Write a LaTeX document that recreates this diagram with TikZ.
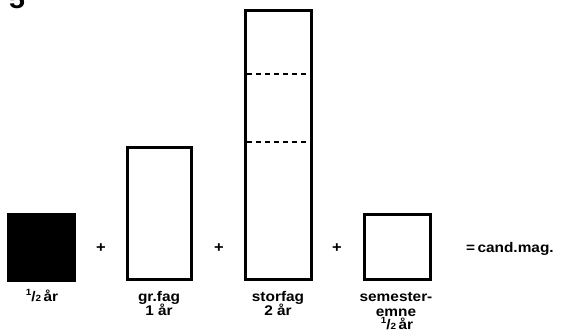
\documentclass[tikz,border=0pt]{standalone}
\usepackage{fontspec}
\setmainfont[FakeStretch=1.1]{Liberation Sans}
\newcommand{\halfyr}{\raisebox{0.42em}{\fontsize{9}{9}\selectfont 1}/{\fontsize{9}{9}\selectfont 2}\,år}
\begin{document}
\begin{tikzpicture}[x=1pt,y=-1pt,
  frame/.style={draw=black,line width=3pt},
  sep/.style={draw=black,line width=1.3pt,dash pattern=on 4.5pt off 4.5pt},
  lbl/.style={font=\bfseries\fontsize{14}{14}\selectfont,anchor=base,inner sep=0pt},
  plus/.style={font=\bfseries\fontsize{15}{15}\selectfont,inner sep=0pt}]
\useasboundingbox (0,0) rectangle (561,336);
\node[font=\bfseries\fontsize{26}{26}\selectfont,anchor=base,inner sep=0pt] (num) at (17,9) {5};
\fill[black] (7,213) rectangle (76,282);
\draw[frame] (127.5,147.5) rectangle (191.5,279.5);
\draw[frame] (245.5,11) rectangle (311.5,279.5);
\draw[sep] (247,74) -- (310,74);
\draw[sep] (247,142) -- (310,142);
\draw[frame] (364.5,214.5) rectangle (430.5,279.5);
\node[plus] (p1) at (101,248) {+};
\node[plus] (p2) at (219,248) {+};
\node[plus] (p3) at (337,248) {+};
\node[font=\bfseries\fontsize{14}{14}\selectfont,anchor=west,inner sep=0pt] (res) at (466,249) {=\,cand.mag.};
\node[lbl] (l1) at (42,301.5) {\halfyr};
\node[lbl] (l2a) at (159,301.5) {gr.fag};
\node[lbl] (l2b) at (159,315.5) {1 år};
\node[lbl] (l3a) at (278,301.5) {storfag};
\node[lbl] (l3b) at (278,315.5) {2 år};
\node[lbl] (l4a) at (396,301.5) {semester-};
\node[lbl] (l4b) at (396,316) {emne};
\node[lbl] (l4c) at (397,329) {\halfyr};
\end{tikzpicture}
\end{document}
